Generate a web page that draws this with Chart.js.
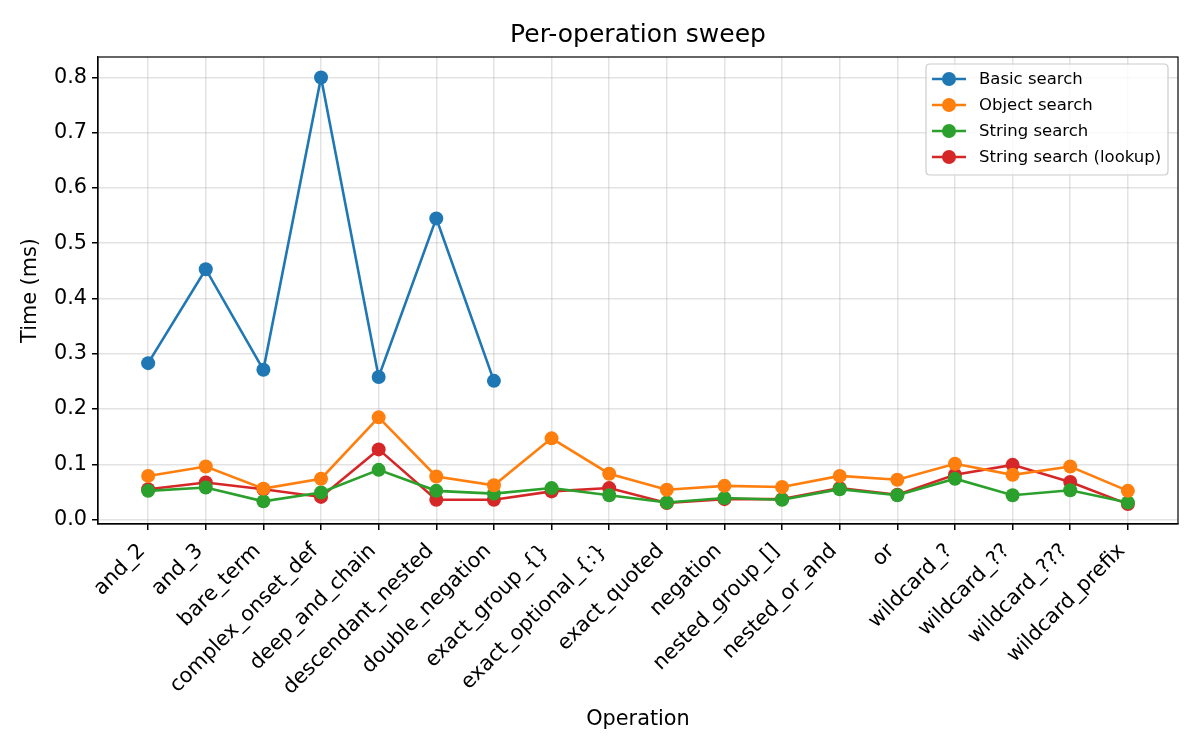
<!DOCTYPE html>
<html><head><meta charset="utf-8">
<script src="https://cdn.jsdelivr.net/npm/chart.js@4.4.1/dist/chart.umd.min.js"></script>
<style>html,body{margin:0;padding:0;background:#fff}#wrap{width:1200px;height:750px}</style>
</head><body><div id="wrap"><canvas id="c" width="1200" height="750"></canvas></div>
<script>
const categories = ["and_2","and_3","bare_term","complex_onset_def","deep_and_chain","descendant_nested","double_negation","exact_group_{}","exact_optional_{:}","exact_quoted","negation","nested_group_[]","nested_or_and","or","wildcard_?","wildcard_??","wildcard_???","wildcard_prefix"];
const basicSearch = [0.283,0.453,0.271,0.800,0.258,0.545,0.251,null,null,null,null,null,null,null,null,null,null,null];
const objectSearch = [0.079,0.096,0.056,0.074,0.185,0.078,0.062,0.147,0.083,0.054,0.061,0.059,0.079,0.072,0.101,0.081,0.096,0.052];
const stringSearch = [0.052,0.058,0.033,0.049,0.090,0.052,0.047,0.057,0.044,0.031,0.039,0.036,0.055,0.044,0.074,0.044,0.053,0.031];
const stringLookup = [0.055,0.067,0.055,0.041,0.127,0.036,0.036,0.051,0.057,0.030,0.037,0.037,0.057,0.045,0.081,0.099,0.068,0.028];
const yTicks = [0.0,0.1,0.2,0.3,0.4,0.5,0.6,0.7,0.8];

const F = "'DejaVu Sans', sans-serif";
const pts = arr => arr.map((v,i)=>({x:i,y:v}));
function ds(label, arr, color){
  return {label, data: pts(arr), borderColor: color, backgroundColor: color,
    borderWidth: 2.6, pointRadius: 7, pointHoverRadius: 7, pointBorderWidth: 0,
    pointBackgroundColor: color, tension: 0, spanGaps: false};
}
const frameLegend = {
  id:'frameLegend',
  afterDraw(chart){
    const {ctx, chartArea:a} = chart;
    ctx.save();
    ctx.strokeStyle='#000'; ctx.lineWidth=1.2;
    ctx.strokeRect(a.left, a.top, a.right-a.left, a.bottom-a.top);
    // title
    ctx.fillStyle='#000'; ctx.font="25px "+F; ctx.textAlign='center'; ctx.textBaseline='middle';
    ctx.fillText('Per-operation sweep', (a.left+a.right)/2, 35);
    // legend
    const x0=926, y0=64, w=242, h=111, r=4;
    ctx.beginPath();
    ctx.moveTo(x0+r,y0); ctx.lineTo(x0+w-r,y0); ctx.quadraticCurveTo(x0+w,y0,x0+w,y0+r);
    ctx.lineTo(x0+w,y0+h-r); ctx.quadraticCurveTo(x0+w,y0+h,x0+w-r,y0+h);
    ctx.lineTo(x0+r,y0+h); ctx.quadraticCurveTo(x0,y0+h,x0,y0+h-r);
    ctx.lineTo(x0,y0+r); ctx.quadraticCurveTo(x0,y0,x0+r,y0); ctx.closePath();
    ctx.fillStyle='rgba(255,255,255,0.8)'; ctx.fill();
    ctx.strokeStyle='#cccccc'; ctx.lineWidth=1.2; ctx.stroke();
    ctx.font="16.5px "+F; ctx.textAlign='left'; ctx.textBaseline='middle';
    chart.data.datasets.forEach((d,i)=>{
      const y=79+i*26;
      ctx.strokeStyle=d.borderColor; ctx.lineWidth=2.6;
      ctx.beginPath(); ctx.moveTo(932,y); ctx.lineTo(966,y); ctx.stroke();
      ctx.fillStyle=d.borderColor; ctx.beginPath(); ctx.arc(949,y,7,0,Math.PI*2); ctx.fill();
      ctx.fillStyle='#000'; ctx.fillText(d.label, 979, y+1);
    });
    ctx.restore();
  }
};
new Chart(document.getElementById('c'), {
  type:'line',
  data:{datasets:[
    ds('Basic search', basicSearch, '#1f77b4'),
    ds('Object search', objectSearch, '#ff7f0e'),
    ds('String search', stringSearch, '#2ca02c'),
    ds('String search (lookup)', stringLookup, '#d62728')
  ]},
  options:{
    responsive:false, animation:false, devicePixelRatio:1,
    layout:{padding:{left:0,right:22,top:57,bottom:0}},
    plugins:{legend:{display:false}, title:{display:false}, tooltip:{enabled:false}},
    scales:{
      x:{type:'linear', min:-0.87, max:categories.length-1+0.87,
        afterBuildTicks: ax => { ax.ticks = categories.map((c,i)=>({value:i})); },
        afterFit: s => { s.height = 226; },
        ticks:{autoSkip:false, maxRotation:45, minRotation:45, color:'#000', padding:9, labelOffset:-6,
          font:{family:F, size:20.8}, callback:(v)=>categories[v]},
        grid:{color:'rgba(176,176,176,0.35)', lineWidth:1.5, tickLength:6, tickColor:'#000', drawTicks:true},
        border:{display:true, color:'#000', width:1.2},
        title:{display:true, text:'Operation', color:'#000', font:{family:F, size:20.8}, padding:{top:0,bottom:18}}
      },
      y:{type:'linear', min:-0.008, max:0.837,
        afterBuildTicks: ax => { ax.ticks = yTicks.map(v=>({value:v})); },
        afterFit: s => { s.width = 98; },
        ticks:{color:'#000', padding:5, font:{family:F, size:20.8}, callback:v=>v.toFixed(1)},
        grid:{color:'rgba(176,176,176,0.35)', lineWidth:1.5, tickLength:6, tickColor:'#000'},
        border:{display:true, color:'#000', width:1.2},
        title:{display:true, text:'Time (ms)', color:'#000', font:{family:F, size:20.8}, padding:{top:18,bottom:0}}
      }
    }
  },
  plugins:[frameLegend]
});
</script></body></html>
